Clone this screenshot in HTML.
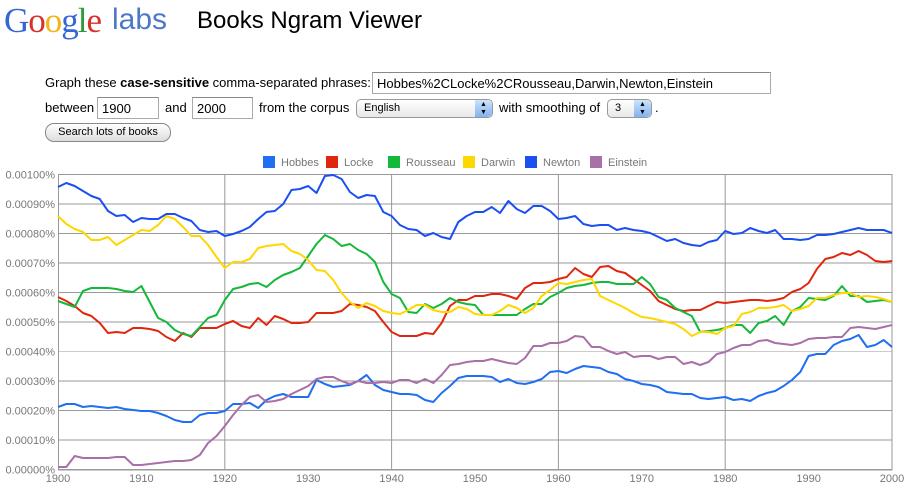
<!DOCTYPE html>
<html><head><meta charset="utf-8">
<style>
body{margin:0;width:915px;height:495px;background:#fff;font-family:"Liberation Sans",sans-serif;position:relative;overflow:hidden}
.a{position:absolute;white-space:nowrap}
.inp{position:absolute;border:1px solid #aaa;border-top-color:#888;background:#fff;font-size:13px;padding:2px 4px;box-sizing:border-box;height:22px;line-height:17px}
.sel{position:absolute;border:1px solid #999;border-radius:5px;background:linear-gradient(#fff,#e8e8e8);font-size:11px;box-sizing:border-box;height:19px;line-height:17px;padding-left:7px}
.sel .k{position:absolute;right:0;top:0;bottom:0;width:17px;border-radius:0 5px 5px 0;background:linear-gradient(#cde3fb,#7fb3ef);font-size:7px;text-align:center;line-height:8px;padding-top:1px}
</style></head><body>
<div class="a" style="left:4px;top:1px;font-family:'Liberation Serif',serif;font-size:35px;letter-spacing:-1px"><span style="color:#3466d6">G</span><span style="color:#d8312a">o</span><span style="color:#f3b418">o</span><span style="color:#3466d6">g</span><span style="color:#2e9a3a">l</span><span style="color:#d8312a">e</span></div>
<div class="a" style="left:112px;top:3px;font-size:30px;color:#4d78c7">labs</div>
<div class="a" style="left:197px;top:7px;font-size:24px;color:#000">Books Ngram Viewer</div>
<div class="a" style="left:45px;top:75px;font-size:13px">Graph these <b>case-sensitive</b> comma-separated phrases:</div>
<div class="inp" style="left:372px;top:72px;width:399px">Hobbes%2CLocke%2CRousseau,Darwin,Newton,Einstein</div>
<div class="a" style="left:45px;top:100px;font-size:13px">between</div>
<div class="inp" style="left:97px;top:97px;width:62px">1900</div>
<div class="a" style="left:165px;top:100px;font-size:13px">and</div>
<div class="inp" style="left:192px;top:97px;width:61px">2000</div>
<div class="a" style="left:259px;top:100px;font-size:13px">from the corpus</div>
<div class="sel" style="left:356px;top:99px;width:137px">English<div class="k">▲<br>▼</div></div>
<div class="a" style="left:499px;top:100px;font-size:13px">with smoothing of</div>
<div class="sel" style="left:607px;top:99px;width:45px">3<div class="k">▲<br>▼</div></div>
<div class="a" style="left:655px;top:100px;font-size:13px">.</div>
<div class="a" style="left:45px;top:123px;width:124px;height:17px;border:1px solid #888;border-radius:9px;background:linear-gradient(#fff,#ddd);font-size:11px;text-align:center;line-height:17px">Search lots of books</div>
<svg id="c" class="a" style="left:0;top:0" width="915" height="495"></svg>
<script>
var N={
nw:[187,183,186,191,196,199,211,216,215,222,218,219,219,214,214,218,221,230,232,231,236,234,231,227,219,212,211,204,190,189,186,193,176,175,179,192,198,195,196,212,216,225,229,230,236,233,237,239,222,216,212,212,207,213,201,209,213,206,206,211,219,218,216,224,226,225,225,230,228,230,231,233,237,241,239,243,245,246,242,240,231,234,233,228,231,233,230,239,239,240,239,235,235,234,232,230,228,230,230,230,233],
hb:[407,404,404,407,406,407,408,407,409,410,411,411,413,416,420,422,422,415,413,413,411,404,404,403,408,400,396,394,397,397,397,380,384,387,386,385,381,375,385,390,392,394,394,395,400,402,393,386,378,376,376,376,377,382,379,383,384,382,379,372,371,373,369,366,367,368,372,374,379,381,384,385,387,392,393,394,394,398,399,398,397,400,399,401,396,393,391,386,380,372,356,354,354,345,341,339,335,347,345,340,347],
ei:[467,467,456,458,458,458,458,457,457,465,465,464,463,462,461,461,460,455,443,436,426,415,405,397,395,402,401,399,394,390,386,379,377,377,381,384,381,383,383,382,383,380,380,383,379,383,375,365,364,362,361,361,359,361,363,364,358,346,346,343,343,341,336,337,347,347,351,354,352,357,356,356,359,357,357,364,362,365,362,354,352,348,345,345,341,340,343,344,345,343,339,338,338,337,337,328,327,328,329,327,325],
lo:[297,301,306,313,316,323,333,332,333,328,328,329,331,337,341,333,337,328,328,328,324,321,326,328,318,325,316,319,323,323,322,313,313,313,311,304,305,307,311,322,332,336,336,336,333,334,323,306,300,300,296,296,294,294,296,299,288,283,283,282,279,277,268,274,277,267,266,271,273,279,285,291,301,305,309,311,310,310,306,302,303,302,301,300,300,301,300,298,292,289,283,269,259,257,253,255,251,255,261,262,261],
ro:[301,304,307,291,288,288,288,289,291,292,286,302,318,322,330,334,336,327,318,315,300,289,287,284,283,287,280,275,272,268,256,244,235,239,246,244,250,254,262,282,294,298,312,313,304,308,304,298,302,304,305,315,315,315,315,315,309,304,304,297,293,288,286,285,283,282,282,284,284,284,277,284,297,300,308,312,316,332,331,330,328,325,325,333,323,321,316,325,311,307,298,299,300,296,286,296,296,302,301,300,302],
da:[216,224,229,232,240,240,237,245,240,235,230,231,225,216,219,227,236,236,245,257,268,262,262,259,248,246,245,244,251,254,260,270,271,280,293,302,308,303,306,311,313,314,310,305,305,310,312,312,307,309,314,315,315,311,305,308,313,308,296,290,283,284,282,280,279,296,300,304,308,313,317,318,320,322,324,329,336,332,332,334,328,326,314,312,308,308,307,305,311,309,306,298,298,295,293,293,297,296,297,299,302]};
var s='',X=function(y){return 58+(y-1900)*8.34};
for(var i=0;i<=10;i++){var y=174.5+i*29.5;s+='<line x1="58" x2="892" y1="'+y+'" y2="'+y+'" stroke="'+(i==6?'#ccc':'#999')+'" stroke-width="1"/>';
s+='<text x="55" y="'+(y+4)+'" text-anchor="end" font-size="11" fill="#777" font-family="Liberation Sans">0.00'+(10-i<10?'0':'')+(10-i)+'0%</text>';}
[1920,1940,1960,1980].forEach(function(y){s+='<line x1="'+X(y)+'" x2="'+X(y)+'" y1="174.5" y2="470" stroke="#999"/>'});
s+='<rect x="58.5" y="174.5" width="833.5" height="295.5" fill="none" stroke="#999"/>';
for(var y=1900;y<=2000;y+=10)s+='<text x="'+X(y)+'" y="482" text-anchor="middle" font-size="11" fill="#777" font-family="Liberation Sans">'+y+'</text>';
var C={nw:'#1c4ff0',hb:'#1f6ff0',ei:'#a96fa7',lo:'#e0260d',ro:'#14b83a',da:'#ffd700'};
['nw','hb','ei','lo','ro','da'].forEach(function(k){var p=N[k].map(function(v,i){return X(1900+i).toFixed(1)+','+v}).join(' ');
s+='<polyline points="'+p+'" fill="none" stroke="'+C[k]+'" stroke-width="2" stroke-linejoin="round"/>'});
var L=[[263,'Hobbes','#1f6ff0'],[326,'Locke','#e0260d'],[388,'Rousseau','#14b83a'],[463,'Darwin','#ffd700'],[525,'Newton','#1c4ff0'],[590,'Einstein','#a96fa7']];
L.forEach(function(l){s+='<rect x="'+l[0]+'" y="156" width="12" height="12" fill="'+l[2]+'"/><text x="'+(l[0]+18)+'" y="166" font-size="11" fill="#777" font-family="Liberation Sans">'+l[1]+'</text>'});
document.getElementById('c').innerHTML=s;
</script>
</body></html>
